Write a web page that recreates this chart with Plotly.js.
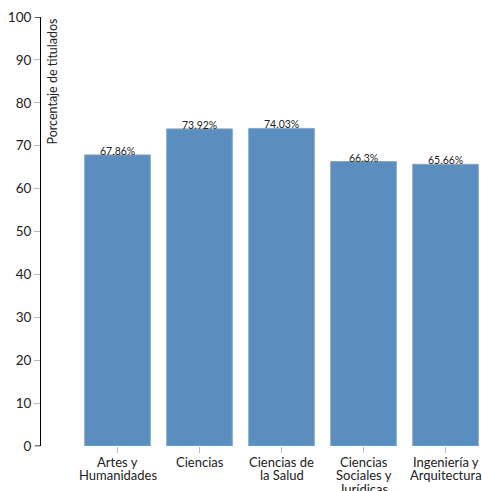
<!DOCTYPE html>
<html><head><meta charset="utf-8">
<script src="https://cdn.plot.ly/plotly-3.0.1.min.js"></script>
<style>html,body{margin:0;padding:0;background:#fff}#chart{width:482px;height:491px}</style>
</head><body><div id="chart"></div>
<script>
const categories = ["Artes y Humanidades", "Ciencias", "Ciencias de la Salud", "Ciencias Sociales y Jurídicas", "Ingeniería y Arquitectura"];
const categoryLines = [["Artes y", "Humanidades"], ["Ciencias"], ["Ciencias de", "la Salud"], ["Ciencias", "Sociales y", "Jurídicas"], ["Ingeniería y", "Arquitectura"]];
const values = [67.86, 73.92, 74.03, 66.3, 65.66];
const valueLabels = ["67.86%", "73.92%", "74.03%", "66.3%", "65.66%"];
const yTicks = [0, 10, 20, 30, 40, 50, 60, 70, 80, 90, 100];

const font = "Lato, 'Open Sans', sans-serif";
const trace = {
  type: "bar",
  x: categories,
  y: values,
  marker: {color: "#5a8ebe", line: {color: "#7fa7cc", width: 1}},
  hoverinfo: "none"
};

const annotations = [{
  text: "Porcentaje de titulados",
  textangle: -90,
  xref: "paper", yref: "paper",
  x: 0, y: 1,
  xanchor: "left", yanchor: "top",
  xshift: 1, yshift: 0,
  showarrow: false,
  font: {family: font, size: 12.5, color: "#222"}
}];
categories.forEach((c, i) => {
  annotations.push({
    text: valueLabels[i], x: c, y: values[i], xref: "x", yref: "y",
    yanchor: "bottom", yshift: -4, showarrow: false,
    font: {family: font, size: 10.5, color: "#222"}
  });
  categoryLines[i].forEach((line, j) => {
    annotations.push({
      text: line, x: c, y: 0, xref: "x", yref: "y",
      yanchor: "top", yshift: -6 - j * 13.3, showarrow: false,
      font: {family: font, size: 13, color: "#222"}
    });
  });
});

const layout = {
  width: 482, height: 491,
  margin: {l: 41, r: 0, t: 17, b: 45},
  paper_bgcolor: "#fff", plot_bgcolor: "#fff",
  bargap: 0.2,
  showlegend: false,
  font: {family: font, color: "#222"},
  xaxis: {
    type: "category",
    range: [-0.933, 4.445],
    showgrid: false, zeroline: false, showline: false,
    ticks: "outside", ticklen: 6, tickcolor: "#bbb", tickwidth: 1,
    showticklabels: false,
    fixedrange: true
  },
  yaxis: {
    range: [0, 100],
    tickvals: yTicks,
    showgrid: false, zeroline: false,
    showline: true, linecolor: "#000", linewidth: 1,
    ticks: "outside", ticklen: 6, tickcolor: "#bbb", tickwidth: 1,
    tickfont: {family: font, size: 13.5, color: "#222"},
    fixedrange: true
  },
  shapes: [
    {type: "line", xref: "paper", yref: "y", xsizemode: "pixel", xanchor: 0, x0: -6, x1: 0, y0: 0, y1: 0, line: {color: "#000", width: 1}},
    {type: "line", xref: "paper", yref: "y", xsizemode: "pixel", xanchor: 0, x0: -6, x1: 0, y0: 100, y1: 100, line: {color: "#000", width: 1}}
  ],
  annotations: annotations
};
Plotly.newPlot("chart", [trace], layout, {displayModeBar: false, staticPlot: true});
</script></body></html>
